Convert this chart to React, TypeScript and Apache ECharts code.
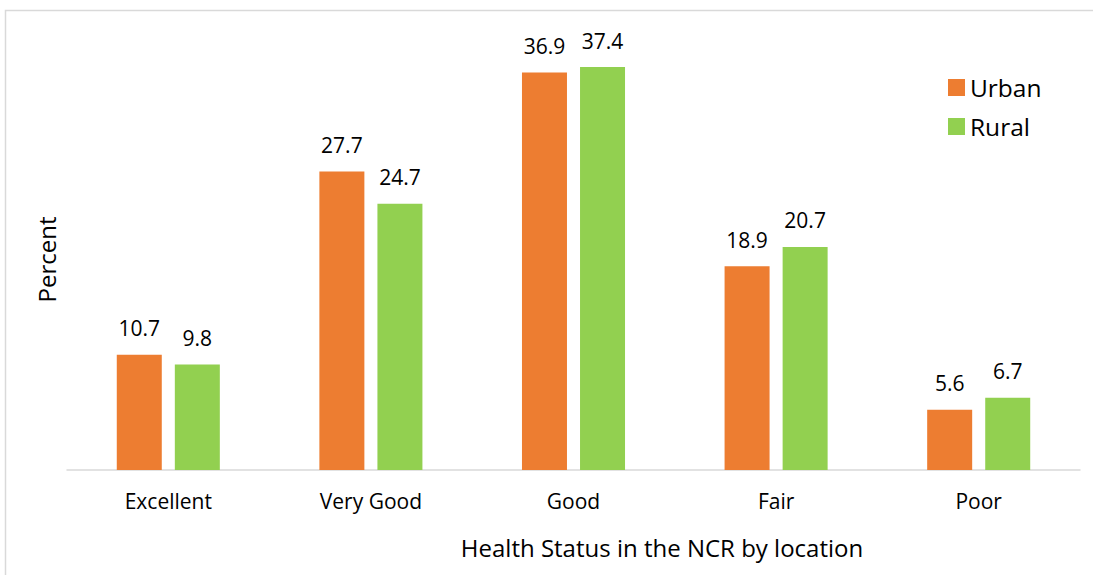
import React, { useEffect, useRef } from "react";
import * as echarts from "echarts";

const categories = ["Excellent", "Very Good", "Good", "Fair", "Poor"];
const urban = [10.7, 27.7, 36.9, 18.9, 5.6];
const rural = [9.8, 24.7, 37.4, 20.7, 6.7];
const xAxisTitle = "Health Status in the NCR by location";
const yAxisTitle = "Percent";
const FONT = "Open Sans";

export default function App() {
  const ref = useRef<HTMLDivElement>(null);
  useEffect(() => {
    const chart = echarts.init(ref.current!, null, { renderer: "svg" });
    const label = {
      show: true,
      position: "top",
      distance: 16,
      fontFamily: FONT,
      fontSize: 21,
      color: "#000",
      formatter: (p: any) => p.value.toFixed(1),
    };
    chart.setOption({
      animation: false,
      backgroundColor: "#ffffff",
      textStyle: { fontFamily: FONT },
      graphic: [
        {
          type: "rect",
          shape: { x: 5.5, y: 10.5, width: 1200, height: 700 },
          style: { fill: "none", stroke: "#d9d9d9", lineWidth: 1.5 },
          silent: true,
        },
        {
          type: "text",
          x: 662,
          y: 547,
          style: {
            text: xAxisTitle,
            fontFamily: FONT,
            fontSize: 24,
            fill: "#000",
            align: "center",
            verticalAlign: "middle",
          },
        },
      ],
      legend: {
        orient: "vertical",
        left: 943,
        top: 70,
        itemWidth: 17,
        itemHeight: 17,
        itemGap: 14,
        icon: "rect",
        textStyle: { fontFamily: FONT, fontSize: 24.5, color: "#000" },
        data: ["Urban", "Rural"],
      },
      grid: { left: 67, right: 13, top: 39, bottom: 105, containLabel: false },
      xAxis: {
        type: "category",
        data: categories,
        axisLine: { lineStyle: { color: "#d9d9d9", width: 1.5 } },
        axisTick: { length: 6, lineStyle: { color: "#d9d9d9", width: 1.5 } },
        axisLabel: { fontFamily: FONT, fontSize: 21, color: "#000", margin: 20 },
      },
      yAxis: {
        type: "value",
        min: 0,
        max: 40,
        name: yAxisTitle,
        nameLocation: "middle",
        nameGap: 9,
        nameRotate: 90,
        nameTextStyle: { fontFamily: FONT, fontSize: 24, color: "#000", padding: [0, 10, 0, 0] },
        axisLine: { show: false },
        axisTick: { show: false },
        axisLabel: { show: false },
        splitLine: { show: false },
      },
      series: [
        {
          name: "Urban",
          type: "bar",
          data: urban,
          barWidth: 45,
          barGap: "29%",
          itemStyle: { color: "#ED7D31" },
          label,
        },
        {
          name: "Rural",
          type: "bar",
          data: rural,
          barWidth: 45,
          barGap: "29%",
          itemStyle: { color: "#92D050" },
          label,
        },
      ],
    });
    return () => chart.dispose();
  }, []);
  return (
    <div
      ref={ref}
      style={{ position: "fixed", left: 0, top: 0, width: 1093, height: 575 }}
    />
  );
}
